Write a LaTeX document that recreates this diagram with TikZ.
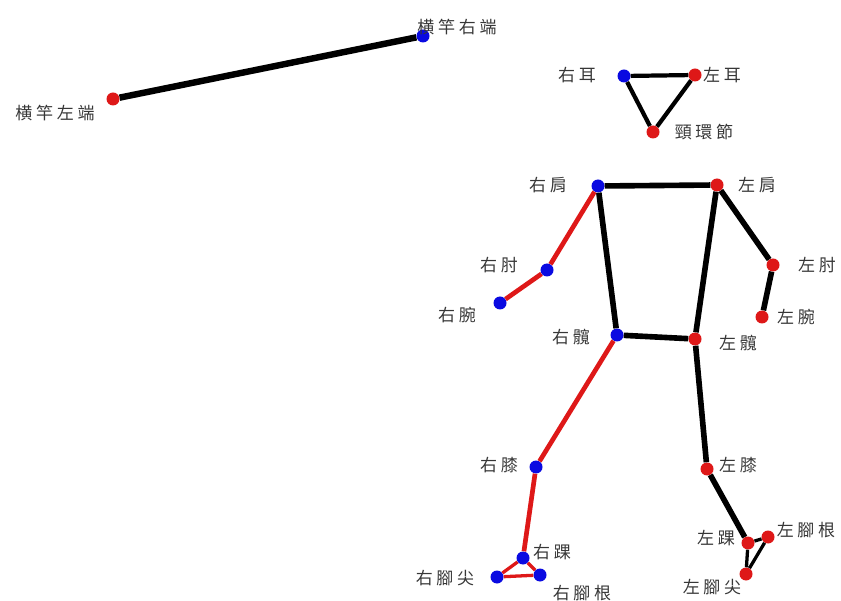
\documentclass[tikz,border=0pt]{standalone}
\usepackage{fontspec}
\usepackage{xcolor}
\usepackage{tikz}
\newfontfamily\cjk[LetterSpace=22]{Noto Sans CJK TC}
\definecolor{rcol}{RGB}{222,24,24}
\definecolor{bcol}{RGB}{10,10,225}
\definecolor{txtcol}{RGB}{55,55,55}

\begin{document}
\begin{tikzpicture}[
  x=0.03cm,y=-0.03cm,
  joint/.style={circle,inner sep=0pt,minimum size=0.39cm},
  rj/.style={joint,fill=rcol},
  bj/.style={joint,fill=bcol},
  bone/.style={line width=4.8pt,black},
  rbone/.style={line width=4pt,rcol},
  lbl/.style={font=\cjk\fontsize{14.5}{16}\selectfont,text=txtcol,inner sep=0pt}
]
\useasboundingbox (0,0) rectangle (841,601);
% bar
\node[rj] (bl) at (113,99) {};
\node[bj] (br) at (423,36) {};
\node[lbl] (t-bl) at (55,113) {横竿左端};
\node[lbl] (t-br) at (457,27) {横竿右端};
% head
\node[bj] (rear) at (624,76) {};
\node[rj] (lear) at (695,75) {};
\node[rj] (neck) at (653,132) {};
\node[lbl] (t-rear) at (577,75) {右耳};
\node[lbl] (t-lear) at (722,75) {左耳};
\node[lbl] (t-neck) at (704,132) {頸環節};
% upper body
\node[bj] (rsh) at (598,186) {};
\node[rj] (lsh) at (717,185) {};
\node[bj] (relb) at (547,270) {};
\node[rj] (lelb) at (773,265) {};
\node[bj] (rwr) at (500,303) {};
\node[rj] (lwr) at (762,317) {};
\node[bj] (rhip) at (617,335) {};
\node[rj] (lhip) at (695,339) {};
\node[lbl] (t-rsh) at (548,185) {右肩};
\node[lbl] (t-lsh) at (757,185) {左肩};
\node[lbl] (t-relb) at (499,265) {右肘};
\node[lbl] (t-lelb) at (817,265) {左肘};
\node[lbl] (t-rwr) at (457,315) {右腕};
\node[lbl] (t-lwr) at (796,317) {左腕};
\node[lbl] (t-rhip) at (571,337) {右髖};
\node[lbl] (t-lhip) at (738,343) {左髖};
% legs
\node[bj] (rkn) at (536,467) {};
\node[rj] (lkn) at (707,469) {};
\node[bj] (rank) at (523,558) {};
\node[rj] (lank) at (748,543) {};
\node[bj] (rtoe) at (497,577) {};
\node[bj] (rheel) at (540,575) {};
\node[rj] (ltoe) at (746,574) {};
\node[rj] (lheel) at (768,537) {};
\node[lbl] (t-rkn) at (499,465) {右膝};
\node[lbl] (t-lkn) at (738,465) {左膝};
\node[lbl] (t-rank) at (552,552) {右踝};
\node[lbl] (t-lank) at (716,538) {左踝};
\node[lbl] (t-rtoe) at (445,578) {右腳尖};
\node[lbl] (t-rheel) at (582,593) {右腳根};
\node[lbl] (t-ltoe) at (712,587) {左腳尖};
\node[lbl] (t-lheel) at (806,530) {左腳根};

\draw[bone,line width=5.5pt] (bl) -- (br);
\draw[bone,line width=3.6pt] (rear) -- (lear) (rear) -- (neck) (lear) -- (neck);
\draw[bone] (rsh) -- (lsh) (rsh) -- (rhip) (lsh) -- (lhip) (rhip) -- (lhip);
\draw[bone] (lsh) -- (lelb) (lelb) -- (lwr);
\draw[bone] (lhip) -- (lkn) (lkn) -- (lank);
\draw[bone,line width=2.8pt] (lank) -- (lheel) (lheel) -- (ltoe) (lank) -- (ltoe);
\draw[rbone] (rsh) -- (relb) (relb) -- (rwr);
\draw[rbone] (rhip) -- (rkn) (rkn) -- (rank);
\draw[rbone,line width=2.8pt] (rank) -- (rtoe) (rank) -- (rheel) (rtoe) -- (rheel);
\end{tikzpicture}
\end{document}
